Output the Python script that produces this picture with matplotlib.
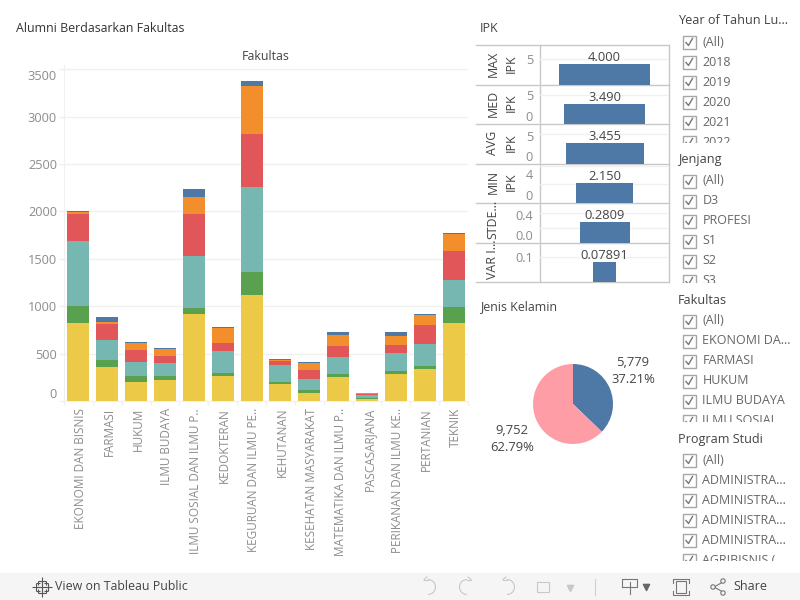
import matplotlib
matplotlib.use("Agg")
import matplotlib.pyplot as plt
from matplotlib.patches import Rectangle, Arc, Circle
from matplotlib.transforms import ScaledTranslation
import numpy as np

plt.rcParams['font.family'] = ['Open Sans', 'DejaVu Sans']

# data
fakultas = ["EKONOMI DAN BISNIS", "FARMASI", "HUKUM", "ILMU BUDAYA", "ILMU SOSIAL DAN ILMU P..",
            "KEDOKTERAN", "KEGURUAN DAN ILMU PE..", "KEHUTANAN", "KESEHATAN MASYARAKAT",
            "MATEMATIKA DAN ILMU P..", "PASCASARJANA", "PERIKANAN DAN ILMU KE..", "PERTANIAN", "TEKNIK"]
seg_yellow = [823, 359, 200, 222, 918, 264, 1119, 179, 84, 253, 21, 285, 338, 823]
seg_green = [179, 74, 64, 42, 63, 31, 242, 21, 32, 32, 11, 32, 31, 169]
seg_teal = [686, 211, 148, 137, 549, 233, 897, 179, 116, 179, 31, 189, 232, 285]
seg_red = [285, 168, 126, 74, 443, 84, 559, 42, 95, 116, 11, 85, 201, 306]
seg_orange = [21, 22, 74, 74, 180, 158, 507, 11, 74, 116, 7, 95, 105, 179]
seg_blue = [11, 52, 11, 10, 84, 11, 53, 10, 11, 32, 3, 42, 11, 10]
y_ticks = [0, 500, 1000, 1500, 2000, 2500, 3000, 3500]

ipk_names = ["MAX", "MED", "AVG", "MIN", "STDE...", "VAR I..."]
ipk_second = ["IPK", "IPK", "IPK", "IPK", "", ""]
ipk_values = [4.000, 3.490, 3.455, 2.150, 0.2809, 0.07891]
ipk_text = ["4.000", "3.490", "3.455", "2.150", "0.2809", "0.07891"]
ipk_ticks = [[5], [0, 5], [0, 5], [0, 4], [0.0, 0.4], [0.1]]
ipk_ticklabels = [["5"], ["0", "5"], ["0", "5"], ["0", "4"], ["0.0", "0.4"], ["0.1"]]
ipk_grid = [[0, 5], [0, 5], [0, 5], [0, 2, 4], [0.0, 0.2, 0.4], [0.1]]

gender_values = [5779, 9752]

year_items = ["(All)", "2018", "2019", "2020", "2021", "2022"]
jenjang_items = ["(All)", "D3", "PROFESI", "S1", "S2", "S3"]
fakultas_items = ["(All)", "EKONOMI DA...", "FARMASI", "HUKUM", "ILMU BUDAYA", "ILMU SOSIAL"]
prodi_items = ["(All)", "ADMINISTRA...", "ADMINISTRA...", "ADMINISTRA...", "ADMINISTRA...", "AGRIBISNIS ("]

# styles
seg_colors = ["#edc948", "#59a14f", "#76b7b2", "#e15759", "#f28e2b", "#4e79a7"]
BLUE = "#4e79a7"
PINK = "#ff9da7"
GRID = "#f0f0f0"
TICK = "#8c8c8c"
DARK = "#444444"
ipk_rows = [(45, 85), (85, 124), (124, 164), (164, 203), (203, 243), (243, 282)]
ipk_bar_px = [91, 81, 78, 57, 50, 23]
ipk_unit_px = [5.14, 5.73, 6.08, 9.3, 74.8, 253.0]

W, H = 800, 600
fig = plt.figure(figsize=(8, 6), dpi=100, facecolor="white")


def px_axes(left, top, right, bottom, **kw):
    return fig.add_axes([left / W, 1 - bottom / H, (right - left) / W, (bottom - top) / H], **kw)


def nudge(label, dy_px, dx_px=0):
    # tableau pushes the edge tick labels inside the pane
    label.set_transform(label.get_transform() + ScaledTranslation(dx_px / 100, -dy_px / 100, fig.dpi_scale_trans))


# overlay in pixel coords for the dashboard furniture
bg = px_axes(0, 0, W, H)
bg.set_xlim(0, W)
bg.set_ylim(H, 0)
bg.axis("off")

bg.text(16, 28, "Alumni Berdasarkan Fakultas", fontsize=8.9, color="#333333", va="center")
bg.text(265.5, 56, "Fakultas", fontsize=8.9, color=DARK, va="center", ha="center")
bg.text(480, 28, "IPK", fontsize=8.9, color=DARK, va="center")
bg.text(480, 307, "Jenis Kelamin", fontsize=8.9, color=DARK, va="center")

# stacked bars
ax = px_axes(64, 65, 468, 401)
x = np.arange(len(fakultas))
bottom = np.zeros(len(fakultas))
for vals, col in zip([seg_yellow, seg_green, seg_teal, seg_red, seg_orange, seg_blue], seg_colors):
    ax.bar(x, vals, width=0.762, bottom=bottom, color=col, zorder=3)
    bottom += np.array(vals)
ax.set_xlim(-0.5, len(fakultas) - 0.5)
ax.set_ylim(0, 3544)
ax.set_yticks(y_ticks)
ax.set_yticklabels([str(v) for v in y_ticks], fontsize=9.2, color=TICK)
ax.set_xticks(x)
ax.set_xticklabels(fakultas, rotation=90, fontsize=8.5, color=TICK, va="top", ha="center")
ax.set_xticks(np.arange(len(fakultas) + 1) - 0.5, minor=True)
ax.tick_params(axis="x", which="major", length=0, pad=5)
ax.tick_params(axis="x", which="minor", length=3, color=GRID, width=1)
ax.tick_params(axis="y", length=3.6, color=GRID, width=1, pad=1.5)
ax.grid(axis="y", color=GRID, linewidth=1, zorder=0)
ax.set_axisbelow(True)
for s in ["top", "right"]:
    ax.spines[s].set_visible(False)
ax.spines["left"].set_color(GRID)
ax.spines["bottom"].set_color(GRID)
ylabels = ax.get_yticklabels()
nudge(ylabels[0], -8)
nudge(ylabels[-1], 6)
for lab in ax.get_xticklabels():
    nudge(lab, 0, 2)

# IPK small multiples
for i, (top, bot) in enumerate(ipk_rows):
    a = px_axes(540, top, 669, bot)
    a.patch.set_visible(False)
    a.bar(0, ipk_values[i], width=ipk_bar_px[i], color=BLUE, zorder=3)
    a.set_xlim(-64.5, 64.5)
    a.set_ylim(0, (bot - top) / ipk_unit_px[i])
    a.set_xticks([])
    a.set_yticks(ipk_ticks[i])
    a.set_yticklabels(ipk_ticklabels[i], fontsize=9.2, color=TICK)
    a.tick_params(axis="y", length=0, pad=5)
    for g in ipk_grid[i]:
        a.axhline(g, color=GRID, linewidth=1, zorder=0)
    for s in a.spines.values():
        s.set_visible(False)
    a.text(0, ipk_values[i], ipk_text[i], fontsize=9.3, color=DARK, ha="center", va="bottom")
    for lab, t in zip(a.get_yticklabels(), ipk_ticks[i]):
        frac = t / ((bot - top) / ipk_unit_px[i])
        if t == 0:
            nudge(lab, -8)
        elif frac > 0.74:
            nudge(lab, 8 if i == 3 else 2)
    mid = (top + bot) / 2 - (1.5 if ipk_second[i] else 3.5)
    bg.text(493, mid, ipk_names[i], rotation=90, fontsize=8.9, color=DARK, ha="center", va="center")
    if ipk_second[i]:
        bg.text(511, mid, ipk_second[i], rotation=90, fontsize=8.9, color=DARK, ha="center", va="center")
    bg.plot([476, 669], [bot, bot], color="#c8c8c8", linewidth=1)
bg.plot([476, 669], [45, 45], color="#c8c8c8", linewidth=1)
bg.plot([540, 540], [45, 282], color="#c8c8c8", linewidth=1)
bg.plot([669, 669], [45, 282], color="#c8c8c8", linewidth=1)

# pie
p = px_axes(533, 364, 613, 444)
p.pie(gender_values, colors=[BLUE, PINK], startangle=90, counterclock=False, radius=1.0)
p.set_xlim(-1, 1)
p.set_ylim(-1, 1)
total = sum(gender_values)
for v, cx, cy in zip(gender_values, [633, 512], [362, 430]):
    bg.text(cx, cy, f"{v:,}", fontsize=9.4, color=DARK, ha="center", va="center")
    bg.text(cx, cy + 17.5, f"{v / total * 100:.2f}%", fontsize=9.4, color=DARK, ha="center", va="center")


# filter cards
def filter_card(title, title_y, items, limit_y):
    bg.text(678, title_y, title, fontsize=9.1, color=DARK, va="center")
    for k, item in enumerate(items):
        cy = title_y + 21 + k * 20
        bg.add_patch(Rectangle((682.5, cy - 6.5), 13, 13, facecolor="white", edgecolor="#a6a6a6", linewidth=1))
        bg.plot([686, 688.5, 692.5], [cy + 0.5, cy + 3.5, cy - 3.5], color="#777777", linewidth=1)
        bg.text(702.5, cy, item, fontsize=9, color="#666666", va="center")
    bg.add_patch(Rectangle((676, limit_y), 124, 11, facecolor="white", edgecolor="none", zorder=5))


filter_card("Year of Tahun Lu...", 21, year_items, 143)
filter_card("Jenjang", 160, jenjang_items, 283)
filter_card("Fakultas", 300, fakultas_items, 422)
filter_card("Program Studi", 439, prodi_items, 561)

# toolbar
bg.add_patch(Rectangle((0, 573), W, 27, facecolor="#f5f5f5", edgecolor="none", zorder=6))
for dx, dy, s in [(0, -6, 30), (0, 6, 30), (-6, 0, 30), (6, 0, 30), (0, 0, 45), (-4, -4, 12), (4, -4, 12), (-4, 4, 12), (4, 4, 12)]:
    bg.scatter(42 + dx, 587 + dy, marker="+", s=s, color="#555555", linewidths=0.8, zorder=7)
bg.text(55, 587, "View on Tableau Public", fontsize=8.9, color=DARK, va="center", zorder=7, fontweight="medium")
ICON_OFF = "#c8c8c8"
ICON_ON = "#777777"
for cx, flip in [(428, 1), (467, -1), (507, 1)]:
    bg.add_patch(Arc((cx, 587), 15, 15, theta1=-90 if flip == 1 else 90, theta2=90 if flip == 1 else 270,
                     color=ICON_OFF, linewidth=0.8, zorder=7))
    bg.plot([cx, cx - 4 * flip], [579.5, 579.5], color=ICON_OFF, linewidth=0.8, zorder=7)
    bg.plot([cx - 4 * flip, cx - 1 * flip], [579.5, 577], color=ICON_OFF, linewidth=0.8, zorder=7)
bg.add_patch(Rectangle((537, 582), 12, 10, facecolor="none", edgecolor=ICON_OFF, linewidth=0.8, zorder=7))
bg.scatter([570], [588], marker="v", s=20, color=ICON_OFF, zorder=7)
bg.plot([595, 595], [579, 595], color="#d0d0d0", linewidth=0.8, zorder=7)
bg.plot([622, 622, 637, 637, 622], [587, 579, 579, 587, 587], color=ICON_ON, linewidth=0.8, zorder=7)
bg.plot([629.5, 629.5], [582, 594], color=ICON_ON, linewidth=0.8, zorder=7)
bg.scatter([646], [587], marker="v", s=20, color="#666666", zorder=7)
bg.add_patch(Rectangle((676, 581), 10, 12, facecolor="none", edgecolor=ICON_ON, linewidth=0.8, zorder=7))
bg.plot([673, 673, 689, 689], [583, 579, 579, 583], color=ICON_ON, linewidth=0.8, zorder=7)
bg.plot([673, 673, 689, 689], [591, 595, 595, 591], color=ICON_ON, linewidth=0.8, zorder=7)
bg.plot([714, 723], [587, 582], color=ICON_ON, linewidth=0.8, zorder=7)
bg.plot([714, 723], [587, 592], color=ICON_ON, linewidth=0.8, zorder=7)
for cx, cy in [(713, 587), (723, 581), (723, 593)]:
    bg.add_patch(Circle((cx, cy), 2.2, facecolor="#f5f5f5", edgecolor=ICON_ON, linewidth=0.8, zorder=8))
bg.text(733, 587, "Share", fontsize=9, color=DARK, va="center", zorder=7, fontweight="medium")

fig.savefig("out.png", dpi=100)
